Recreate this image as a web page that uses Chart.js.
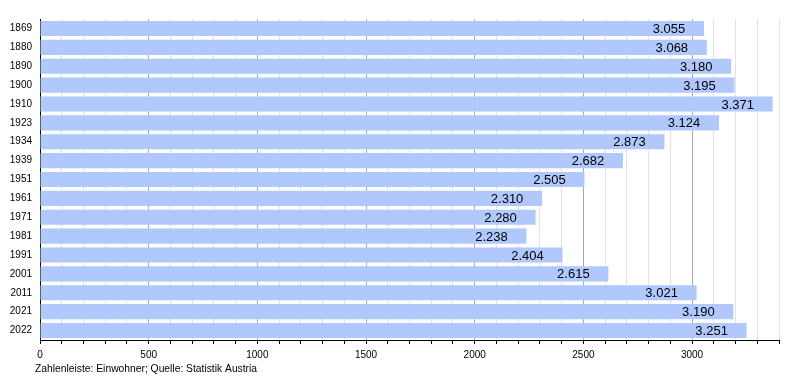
<!DOCTYPE html>
<html>
<head>
<meta charset="utf-8">
<script src="https://cdn.jsdelivr.net/npm/chart.js@4"></script>
<style>
  html, body { margin: 0; padding: 0; background: #fff; }
  #wrap { width: 800px; height: 380px; }
</style>
</head>
<body>
<div id="wrap"><canvas id="chart"></canvas></div>
<script>
const years = ['1869', '1880', '1890', '1900', '1910', '1923', '1934', '1939', '1951',
    '1961', '1971', '1981', '1991', '2001', '2011', '2021', '2022'];
const inhabitants = [3055, 3068, 3180, 3195, 3371, 3124, 2873, 2682, 2505,
    2310, 2280, 2238, 2404, 2615, 3021, 3190, 3251];
const footerText = 'Zahlenleiste: Einwohner; Quelle: Statistik Austria';

const fontFamily = '"Liberation Sans", Arial, sans-serif';

function formatDe(v) {
    return String(v).replace(/\B(?=(\d{3})+(?!\d))/g, '.');
}

// value labels inside the bars + footer line
const labelPlugin = {
    id: 'labels',
    afterDatasetsDraw(chart) {
        const c = chart.ctx;
        const meta = chart.getDatasetMeta(0);
        c.save();
        c.font = '13px ' + fontFamily;
        c.fillStyle = '#000';
        c.textAlign = 'center';
        c.textBaseline = 'middle';
        meta.data.forEach((bar, i) => {
            c.fillText(formatDe(inhabitants[i]), bar.x - 35, bar.y + 1);
        });
        c.font = '10.3px ' + fontFamily;
        c.textAlign = 'left';
        c.fillText(footerText, 35, 369);
        c.restore();
    }
};

new Chart(document.getElementById('chart'), {
    type: 'bar',
    data: {
        labels: years,
        datasets: [{
            data: inhabitants,
            backgroundColor: '#b0c8fc',
            borderWidth: 0,
            barPercentage: 0.8,
            categoryPercentage: 1
        }]
    },
    options: {
        indexAxis: 'y',
        responsive: true,
        maintainAspectRatio: false,
        animation: false,
        layout: {
            padding: { top: 19, right: 21, bottom: 0, left: 0 }
        },
        scales: {
            x: {
                min: 0,
                max: 3400,
                afterFit(scale) { scale.height = 40; },
                border: { display: true, color: '#000', width: 1 },
                grid: {
                    color: (ctx) => (ctx.tick && ctx.tick.value % 500 === 0) ? '#a8a8a8' : '#e2e2e2',
                    tickColor: '#000',
                    tickLength: 4,
                    drawTicks: true
                },
                ticks: {
                    stepSize: 100,
                    autoSkip: false,
                    maxRotation: 0,
                    padding: 5,
                    color: '#000',
                    font: { size: 10, family: fontFamily },
                    callback: (v) => v % 500 === 0 ? String(v) : ''
                }
            },
            y: {
                afterFit(scale) { scale.width = 40; },
                border: { display: true, color: '#000', width: 1 },
                grid: { display: false, drawTicks: false, tickLength: 0 },
                ticks: {
                    padding: 8,
                    color: '#000',
                    font: { size: 10, family: fontFamily }
                }
            }
        },
        plugins: {
            legend: { display: false },
            tooltip: { enabled: false }
        }
    },
    plugins: [labelPlugin]
});
</script>
</body>
</html>
